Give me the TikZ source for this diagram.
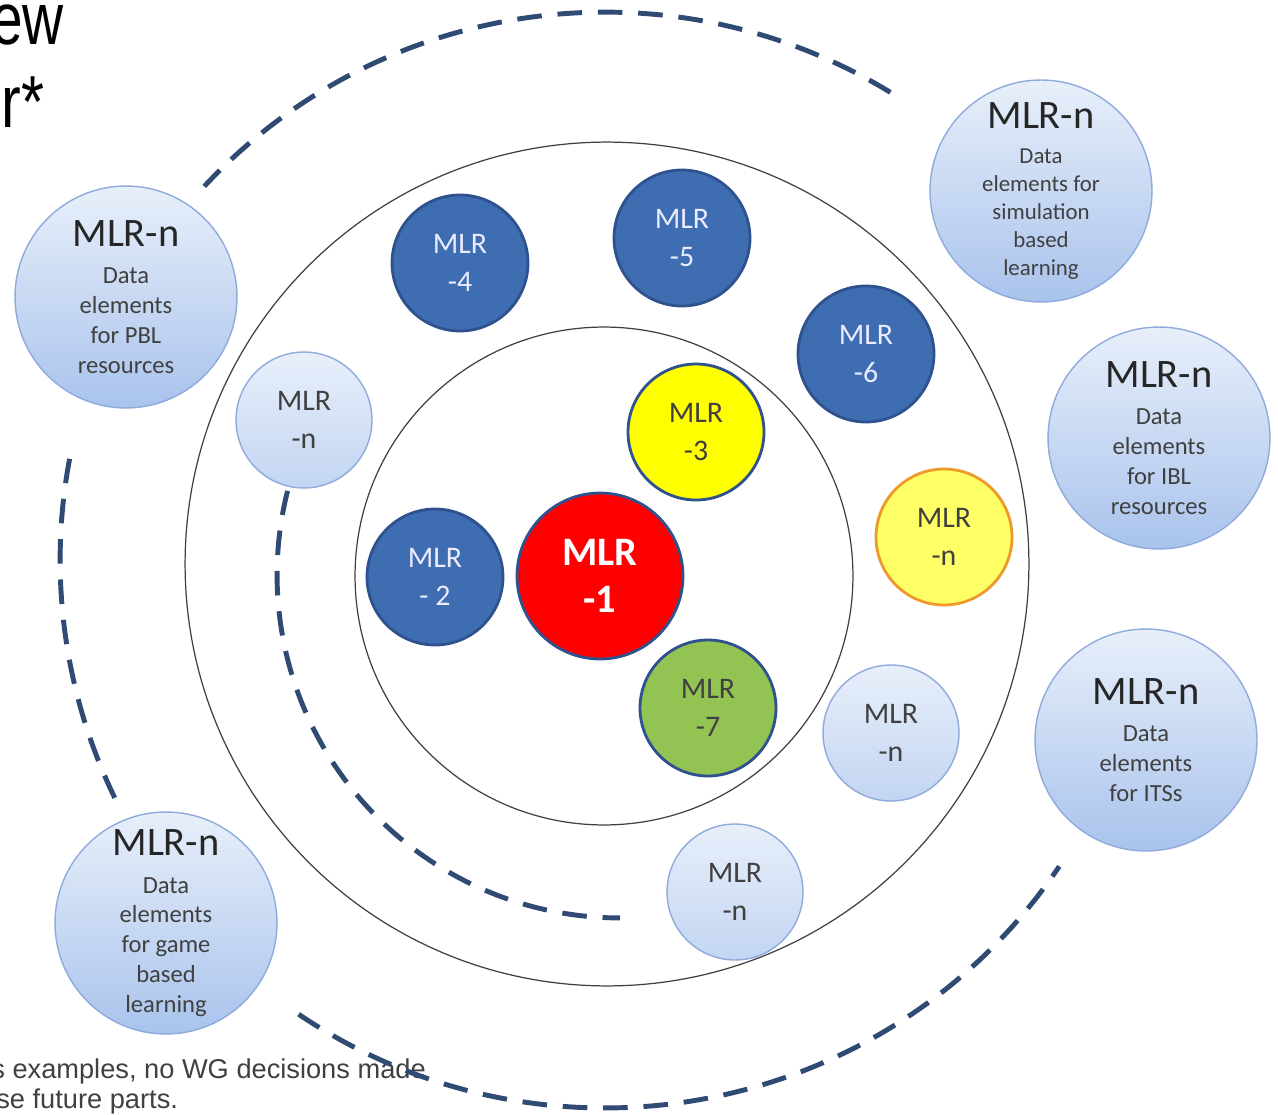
\documentclass[tikz,border=0pt]{standalone}
\usepackage{fontspec}
\setmainfont{Carlito}
\newfontfamily\arialfont{Liberation Sans}
\usetikzlibrary{shadings}

\definecolor{mlrdark}{HTML}{3F6DB1}
\definecolor{mlrdarkline}{HTML}{2F528F}
\definecolor{dashblue}{HTML}{2F4A73}
\definecolor{lighttop}{HTML}{E8EFFA}
\definecolor{lightbot}{HTML}{A9C3EC}
\definecolor{lightline}{HTML}{8FAADC}
\definecolor{mlryellow}{HTML}{FFFF00}
\definecolor{paleyellow}{HTML}{FFFF66}
\definecolor{mlrorange}{HTML}{ED9A2A}
\definecolor{mlrgreen}{HTML}{92C353}
\definecolor{textgray}{HTML}{404040}

\begin{document}
\begin{tikzpicture}[x=0.02cm, y=-0.02cm,
  mlr/.style={circle, draw=mlrdarkline, line width=1.6pt, minimum size=2.72cm, inner sep=0pt, align=center, font=\fontsize{17}{21.5}\selectfont},
  darkmlr/.style={mlr, fill=mlrdark, text=white!92!blue},
  lightmlr/.style={mlr, draw=lightline, line width=0.8pt, top color=lighttop, bottom color=lightbot!70!white, text=textgray},
  bigmlr/.style={circle, draw=lightline, line width=0.8pt, top color=lighttop, bottom color=lightbot, minimum size=4.44cm, inner sep=0pt, align=center, text=textgray, font=\fontsize{14}{17}\selectfont},
  ring/.style={draw=black!75, line width=0.7pt},
  dasharc/.style={draw=dashblue, line width=2.8pt, dash pattern=on 14pt off 9pt},
  titletext/.style={inner sep=0pt, font=\arialfont\fontsize{42}{42}\selectfont},
  slidetext/.style={inner sep=0pt, text=textgray, font=\arialfont\fontsize{15.5}{17}\selectfont}]
\useasboundingbox (0,0) rectangle (1278,1115);

% slide title and footnote, cut at the left edge
\node[titletext, anchor=base east] (titleone) at (64,45) {\scalebox{0.77}[1]{ew}};
\node[titletext, anchor=base west] (titletwo) at (1,128) {\scalebox{0.8}[1]{r*}};
\node[slidetext, anchor=base west] (noteone) at (-9,1078) {s examples, no WG decisions made};
\node[slidetext, anchor=base west] (notetwo) at (-4,1108) {se future parts.};

% rings and dashed arcs
\coordinate (hub) at (605,560);
\coordinate (innerhub) at (620,575);
\draw[ring] (607,564) circle[radius=8.44cm];
\draw[ring] (604,576) circle[radius=4.98cm];
\draw[dasharc] (hub) ++(58.6:10.96cm) arc[start angle=58.6, end angle=137, radius=10.96cm];
\draw[dasharc] (hub) ++(169.3:10.9cm) arc[start angle=169.3, end angle=206, radius=10.9cm];
\draw[dasharc] (hub) ++(236:10.96cm) arc[start angle=236, end angle=326, radius=10.96cm];
\draw[dasharc] (innerhub) ++(165.8:6.86cm) arc[start angle=165.8, end angle=270, radius=6.86cm];

% core and first ring
\node[mlr, fill=red, minimum size=3.32cm, text=white, font=\bfseries\fontsize{23}{27}\selectfont] (mlrone) at (600,576) {MLR\\-1};
\node[darkmlr] (mlrtwo) at (435,577) {MLR\\- 2};
\node[mlr, fill=mlryellow, text=textgray] (mlrthree) at (696,432) {MLR\\-3};
\node[mlr, fill=mlrgreen, text=textgray] (mlrseven) at (708,708) {MLR\\-7};

% second ring
\node[darkmlr] (mlrfour) at (460,263) {MLR\\-4};
\node[darkmlr] (mlrfive) at (682,238) {MLR\\-5};
\node[darkmlr] (mlrsix) at (866,354) {MLR\\-6};
\node[mlr, fill=paleyellow, draw=mlrorange, text=textgray] (mlrnyellow) at (944,537) {MLR\\-n};
\node[lightmlr] (mlrnleft) at (304,420) {MLR\\-n};
\node[lightmlr] (mlrnright) at (891,733) {MLR\\-n};
\node[lightmlr] (mlrnbottom) at (735,892) {MLR\\-n};

% outer parts
\node[bigmlr] (pbl) at (126,297) {{\fontsize{23}{23}\selectfont\color{black!85}MLR-n}\\[4.5pt]Data\\elements\\for PBL\\resources};
\node[bigmlr, font=\fontsize{13}{16}\selectfont] (simulation) at (1041,191) {{\fontsize{23}{23}\selectfont\color{black!85}MLR-n}\\[4pt]Data\\elements for\\simulation\\based\\learning};
\node[bigmlr] (ibl) at (1159,438) {{\fontsize{23}{23}\selectfont\color{black!85}MLR-n}\\[4.5pt]Data\\elements\\for IBL\\resources};
\node[bigmlr] (its) at (1146,740) {{\fontsize{23}{23}\selectfont\color{black!85}MLR-n}\\[4.5pt]Data\\elements\\for ITSs};
\node[bigmlr] (game) at (166,923) {{\fontsize{23}{23}\selectfont\color{black!85}MLR-n}\\[4.5pt]Data\\elements\\for game\\based\\learning};
\end{tikzpicture}
\end{document}
